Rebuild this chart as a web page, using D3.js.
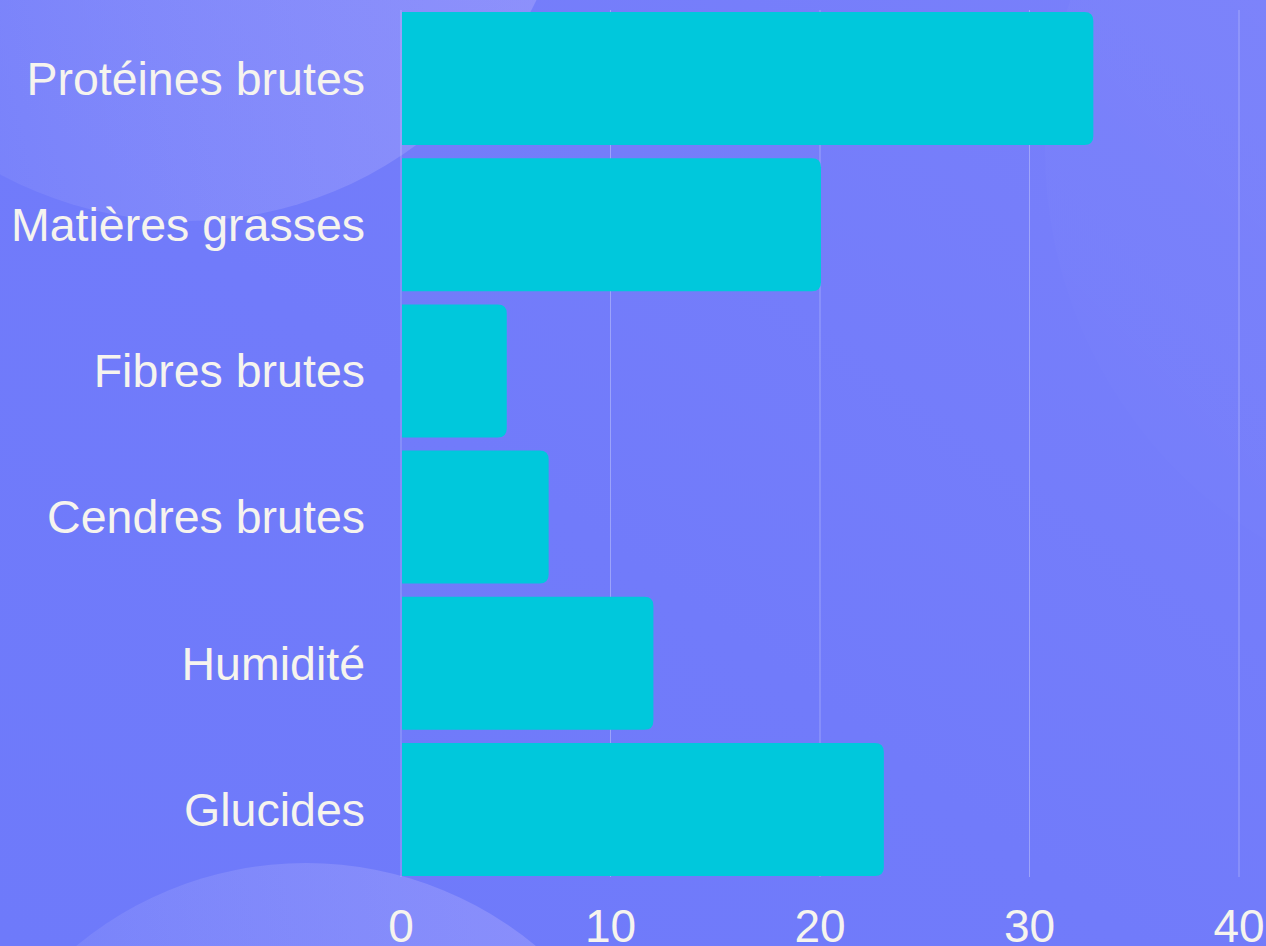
<!DOCTYPE html>
<html>
<head>
<meta charset="utf-8">
<script src="https://cdn.jsdelivr.net/npm/d3@7"></script>
<style>
  html, body { margin: 0; padding: 0; overflow: hidden; }
  svg { display: block; }
</style>
</head>
<body>
<svg id="chart" width="1266" height="946"></svg>
<script>
// nutrient composition (%)
var categories = ["Protéines brutes", "Matières grasses", "Fibres brutes", "Cendres brutes", "Humidité", "Glucides"];
var values = [33, 20, 5, 7, 12, 23];
var xTicks = [0, 10, 20, 30, 40];

var width = 1266, height = 946;
var svg = d3.select("#chart");

// background + decorative blobs
var defs = svg.append("defs");
var bg = defs.append("linearGradient").attr("id", "bg")
  .attr("x1", "100%").attr("y1", "0%").attr("x2", "0%").attr("y2", "100%");
bg.append("stop").attr("offset", "0%").attr("stop-color", "#7980fa");
bg.append("stop").attr("offset", "55%").attr("stop-color", "#717bfa");
bg.append("stop").attr("offset", "100%").attr("stop-color", "#6e7afa");

var blob = defs.append("linearGradient").attr("id", "blob")
  .attr("x1", "0%").attr("y1", "60%").attr("x2", "100%").attr("y2", "40%");
blob.append("stop").attr("offset", "0%").attr("stop-color", "#ffffff").attr("stop-opacity", 0.02);
blob.append("stop").attr("offset", "100%").attr("stop-color", "#d8c8ff").attr("stop-opacity", 0.26);

var blob2 = defs.append("linearGradient").attr("id", "blob2")
  .attr("x1", "0%").attr("y1", "100%").attr("x2", "100%").attr("y2", "0%");
blob2.append("stop").attr("offset", "0%").attr("stop-color", "#ffffff").attr("stop-opacity", 0.0);
blob2.append("stop").attr("offset", "100%").attr("stop-color", "#ffffff").attr("stop-opacity", 0.06);

svg.append("rect").attr("width", width).attr("height", height).attr("fill", "url(#bg)");

svg.append("circle").attr("cx", 185).attr("cy", -169).attr("r", 390).attr("fill", "url(#blob)");
svg.append("circle").attr("cx", 306).attr("cy", 1223).attr("r", 360).attr("fill", "url(#blob)");
svg.append("circle").attr("cx", 1500).attr("cy", 150).attr("r", 455).attr("fill", "url(#blob2)");

// scales
var x = d3.scaleLinear().domain([0, 40]).range([401, 1239]);
var y = d3.scaleBand().domain(categories).range([5.4, 882.6])
  .paddingInner(0.09).paddingOuter(0.045);

// grid lines
svg.append("g").selectAll("line")
  .data(xTicks)
  .enter().append("line")
  .attr("x1", function(d) { return x(d); })
  .attr("x2", function(d) { return x(d); })
  .attr("y1", 10)
  .attr("y2", 877)
  .attr("stroke", "#ffffff")
  .attr("stroke-opacity", 0.3)
  .attr("stroke-width", 1);

// bars, only right side rounded
function barPath(d, i) {
  var x0 = x(0) + 1, x1 = x(d) + 1, y0 = y(categories[i]), h = y.bandwidth(), r = 9;
  return "M" + x0 + "," + y0 +
    "H" + (x1 - r) +
    "Q" + x1 + "," + y0 + " " + x1 + "," + (y0 + r) +
    "V" + (y0 + h - r) +
    "Q" + x1 + "," + (y0 + h) + " " + (x1 - r) + "," + (y0 + h) +
    "H" + x0 + "Z";
}

svg.append("g").selectAll("path")
  .data(values)
  .enter().append("path")
  .attr("d", barPath)
  .attr("fill", "#00c8dc");

// category labels
svg.append("g").selectAll("text")
  .data(categories)
  .enter().append("text")
  .attr("x", 365)
  .attr("y", function(d) { return y(d) + y.bandwidth() / 2; })
  .attr("dy", "0.35em")
  .attr("text-anchor", "end")
  .attr("font-family", "'Liberation Sans', Arial, sans-serif")
  .attr("font-size", 46.5)
  .attr("fill", "#f6f4ee")
  .text(function(d) { return d; });

// x tick labels
svg.append("g").selectAll("text")
  .data(xTicks)
  .enter().append("text")
  .attr("x", function(d) { return x(d); })
  .attr("y", 942)
  .attr("text-anchor", "middle")
  .attr("font-family", "'Liberation Sans', Arial, sans-serif")
  .attr("font-size", 46)
  .attr("fill", "#f6f4ee")
  .text(function(d) { return d; });
</script>
</body>
</html>
